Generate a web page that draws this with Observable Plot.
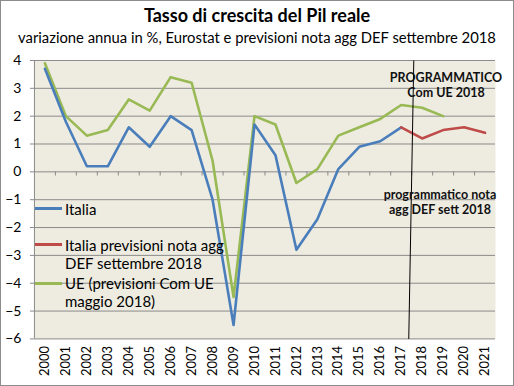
<!DOCTYPE html>
<html><head><meta charset="utf-8">
<script src="https://cdn.jsdelivr.net/npm/d3@7"></script>
<script src="https://cdn.jsdelivr.net/npm/@observablehq/plot@0.6"></script>
<style>
body{margin:0;background:#fff;font-family:Lato,"Open Sans",sans-serif;color:#000}
#wrap{position:relative;width:514px;height:386px;box-sizing:border-box;border:1px solid #8c8c8c;overflow:hidden;background:#fff}
#title{position:absolute;top:3px;left:0;width:512px;text-align:center;font-weight:bold;font-size:18px;line-height:22px}
#subtitle{position:absolute;top:26px;left:0;width:512px;text-align:center;font-size:14.8px;line-height:20px}
#chart{position:absolute;top:47px;left:-1px}
.leg{position:absolute;left:64px;font-size:15px;line-height:18px}
.sw{position:absolute;left:34px;width:27px;height:3px}
.ann{position:absolute;width:140px;text-align:center;font-weight:bold;font-size:12.5px;line-height:15px;color:#111}
</style></head>
<body>
<div id="wrap">
  <div id="title">Tasso di crescita del Pil reale</div>
  <div id="subtitle">variazione annua in %, Eurostat e previsioni nota agg DEF settembre 2018</div>
  <div id="chart"></div>
  <div class="sw" style="top:206px;background:#4A7EBB"></div>
  <div class="leg" style="top:199px">Italia</div>
  <div class="sw" style="top:242px;background:#BE4B48"></div>
  <div class="leg" style="top:235px">Italia previsioni nota agg<br>DEF settembre 2018</div>
  <div class="sw" style="top:281px;background:#98B954"></div>
  <div class="leg" style="top:273px">UE (previsioni Com UE<br>maggio 2018)</div>
  <div class="ann" style="left:375px;top:69px">PROGRAMMATICO<br>Com UE 2018</div>
  <div class="ann" style="left:369px;top:186px">programmatico nota<br>agg DEF sett 2018</div>
</div>
<script>
const years = [2000,2001,2002,2003,2004,2005,2006,2007,2008,2009,2010,2011,2012,2013,2014,2015,2016,2017,2018,2019,2020,2021];
const yTicks = [-6,-5,-4,-3,-2,-1,0,1,2,3,4];

const italiaYears = [2000,2001,2002,2003,2004,2005,2006,2007,2008,2009,2010,2011,2012,2013,2014,2015,2016,2017];
const italiaValues = [3.7,1.8,0.2,0.2,1.6,0.9,2.0,1.5,-1.0,-5.5,1.7,0.6,-2.8,-1.7,0.1,0.9,1.1,1.6];

const previsioniYears = [2017,2018,2019,2020,2021];
const previsioniValues = [1.6,1.2,1.5,1.6,1.4];

const ueYears = [2000,2001,2002,2003,2004,2005,2006,2007,2008,2009,2010,2011,2012,2013,2014,2015,2016,2017,2018,2019];
const ueValues = [3.9,2.0,1.3,1.5,2.6,2.2,3.4,3.2,0.4,-4.5,2.0,1.7,-0.4,0.1,1.3,1.6,1.9,2.4,2.3,2.0];

// divider between consuntivo and programmatico (slightly slanted as in the source)
const divider = [{x1: 2017.6, y1: 4, x2: 2017.36, y2: -6}];

const italia = italiaYears.map((y,i)=>({year:y, value:italiaValues[i]}));
const previsioni = previsioniYears.map((y,i)=>({year:y, value:previsioniValues[i]}));
const ue = ueYears.map((y,i)=>({year:y, value:ueValues[i]}));
const boundaries = years.map(y => y + 0.5).slice(0, -1);

const grid = "#8a8a8a";
const chart = Plot.plot({
  width: 514, height: 338,
  marginLeft: 34, marginRight: 18, marginTop: 12, marginBottom: 47,
  x: {type: "linear", domain: [1999.5, 2021.5]},
  y: {domain: [-6, 4]},
  style: {fontFamily: "Lato, 'Open Sans', sans-serif", background: "transparent", color: "#000"},
  marks: [
    Plot.frame({fill: "#EEECE1", stroke: null}),
    Plot.ruleY(yTicks, {stroke: grid, strokeWidth: 1}),
    Plot.ruleX([1999.5], {stroke: grid, strokeWidth: 1}),
    Plot.ruleX(boundaries, {y1: 0, y2: -0.15, stroke: grid}),
    Plot.axisY({ticks: yTicks, tickSize: 4, tickPadding: 9, fontSize: 14, stroke: grid, label: null}),
    Plot.axisX({ticks: years, tickFormat: d => String(d), tickRotate: -90, tickSize: 0, tickPadding: 7, fontSize: 13, label: null}),
    Plot.line(ue, {x: "year", y: "value", stroke: "#98B954", strokeWidth: 2.6}),
    Plot.line(italia, {x: "year", y: "value", stroke: "#4A7EBB", strokeWidth: 2.6}),
    Plot.line(previsioni, {x: "year", y: "value", stroke: "#BE4B48", strokeWidth: 2.6}),
    Plot.link(divider, {x1: "x1", y1: "y1", x2: "x2", y2: "y2", stroke: "#000", strokeWidth: 1})
  ]
});
document.getElementById("chart").appendChild(chart);
</script>
</body></html>
